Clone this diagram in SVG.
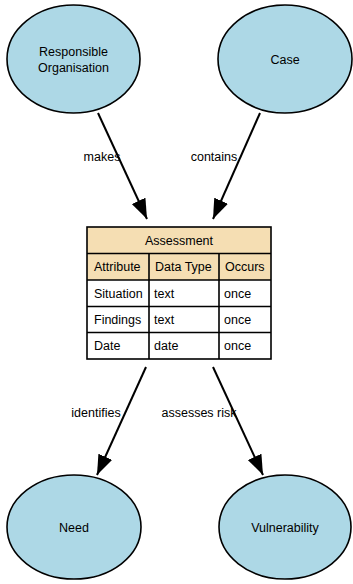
<svg xmlns="http://www.w3.org/2000/svg" width="353" height="584" viewBox="0 0 353 584">
<style>
.node ellipse{fill:#ADD8E6;stroke:#000;stroke-width:1.6}
text{font-family:"Liberation Sans",Arial,sans-serif;font-size:12.5px;fill:#000}
.c{text-anchor:middle}
.edge{stroke:#000;stroke-width:2;fill:none;marker-end:url(#arrow)}
.hdr{fill:#F5DEB3}
.grid{stroke:#000;stroke-width:1.6;fill:none}
</style>
<defs>
<marker id="arrow" viewBox="0 0 20 15" refX="20" refY="7.5" markerWidth="20" markerHeight="15" markerUnits="userSpaceOnUse" orient="auto">
<path d="M0,0 L20,7.5 L0,15 z" fill="#000"/>
</marker>
</defs>
<rect width="353" height="584" fill="#fff"/>
<g id="connectors">
<line class="edge" x1="98" y1="113" x2="147" y2="219"/>
<line class="edge" x1="260" y1="113" x2="213" y2="219"/>
<line class="edge" x1="146" y1="367" x2="97" y2="475"/>
<line class="edge" x1="213" y1="367" x2="263" y2="475"/>
<text class="c" x="102" y="161">makes</text>
<text class="c" x="214" y="161">contains</text>
<text class="c" x="96" y="417">identifies</text>
<text class="c" x="199" y="417">assesses risk</text>
</g>
<g id="responsible-organisation" class="node">
<ellipse cx="73.5" cy="59" rx="66.5" ry="54"/>
<text class="c" x="73.5" y="56">Responsible</text>
<text class="c" x="73.5" y="72">Organisation</text>
</g>
<g id="case" class="node">
<ellipse cx="285" cy="59" rx="67" ry="54"/>
<text class="c" x="285" y="63.5">Case</text>
</g>
<g id="assessment">
<rect class="hdr" x="87" y="227" width="184" height="53"/>
<rect x="87" y="280" width="184" height="79" fill="#fff"/>
<rect class="grid" x="87" y="227" width="184" height="132" stroke-width="2"/>
<path class="grid" d="M87,253.5 H271 M87,280 H271 M87,306.5 H271 M87,332.5 H271 M149,253.5 V359 M219,253.5 V359"/>
<text class="c" x="179" y="244.5">Assessment</text>
<text x="94" y="271">Attribute</text>
<text x="155" y="271">Data Type</text>
<text x="225" y="271">Occurs</text>
<text x="94" y="298">Situation</text>
<text x="154" y="298">text</text>
<text x="224" y="298">once</text>
<text x="94" y="324">Findings</text>
<text x="154" y="324">text</text>
<text x="224" y="324">once</text>
<text x="94" y="350">Date</text>
<text x="154" y="350">date</text>
<text x="224" y="350">once</text>
</g>
<g id="need" class="node">
<ellipse cx="74" cy="527" rx="67" ry="52"/>
<text class="c" x="74" y="531.5">Need</text>
</g>
<g id="vulnerability" class="node">
<ellipse cx="285" cy="527" rx="66" ry="52"/>
<text class="c" x="285" y="531.5">Vulnerability</text>
</g>
</svg>
